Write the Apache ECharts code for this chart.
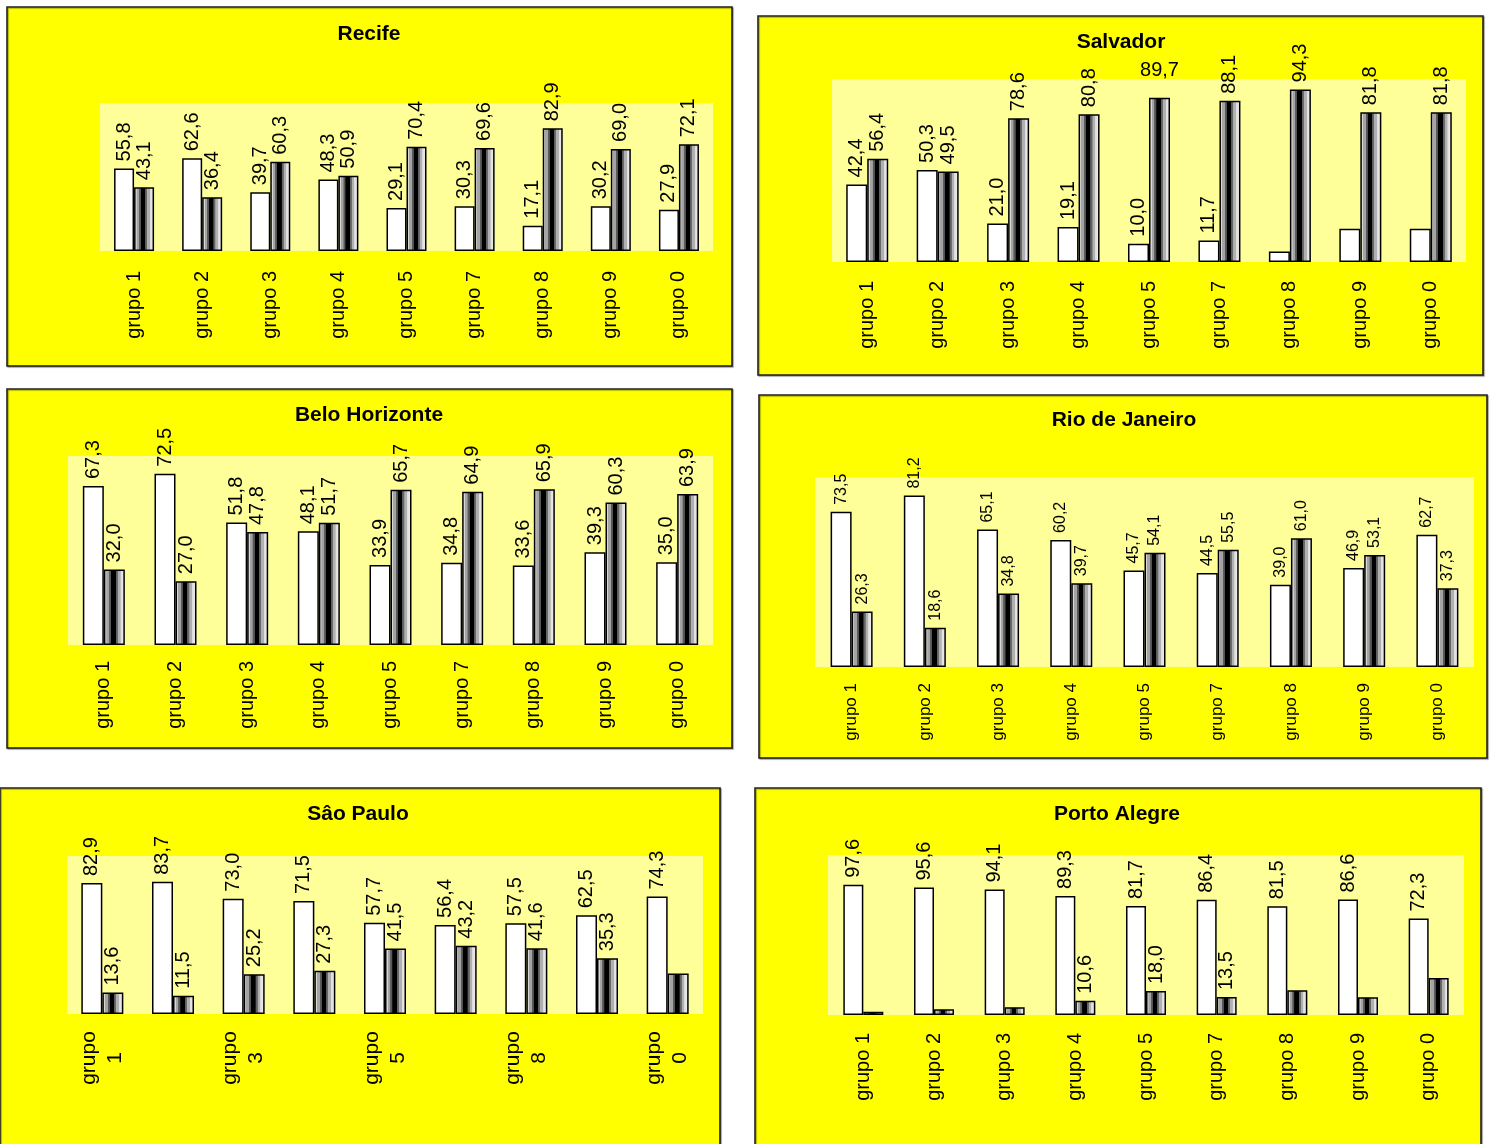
<!DOCTYPE html>
<html><head><meta charset="utf-8">
<script src="https://cdn.jsdelivr.net/npm/echarts@6/dist/echarts.min.js"></script>
<style>html,body{margin:0;padding:0;background:#fff}#c{width:1491px;height:1144px}</style>
</head><body><div id="c"></div>
<script>
// ---- DATA ----
const categories = ['grupo 1','grupo 2','grupo 3','grupo 4','grupo 5','grupo 7','grupo 8','grupo 9','grupo 0'];
const cityNames = ['Recife','Salvador','Belo Horizonte','Rio de Janeiro','Sâo Paulo','Porto Alegre'];

const recifeWhite   = [55.8, 62.6, 39.7, 48.3, 29.1, 30.3, 17.1, 30.2, 27.9];
const recifeStriped = [43.1, 36.4, 60.3, 50.9, 70.4, 69.6, 82.9, 69.0, 72.1];

const salvadorWhite   = [42.4, 50.3, 21.0, 19.1, 10.0, 11.7, 5.7, 18.2, 18.2];
const salvadorStriped = [56.4, 49.5, 78.6, 80.8, 89.7, 88.1, 94.3, 81.8, 81.8];

const beloWhite   = [67.3, 72.5, 51.8, 48.1, 33.9, 34.8, 33.6, 39.3, 35.0];
const beloStriped = [32.0, 27.0, 47.8, 51.7, 65.7, 64.9, 65.9, 60.3, 63.9];

const rioWhite   = [73.5, 81.2, 65.1, 60.2, 45.7, 44.5, 39.0, 46.9, 62.7];
const rioStriped = [26.3, 18.6, 34.8, 39.7, 54.1, 55.5, 61.0, 53.1, 37.3];

const spWhite   = [82.9, 83.7, 73.0, 71.5, 57.7, 56.4, 57.5, 62.5, 74.3];
const spStriped = [13.6, 11.5, 25.2, 27.3, 41.5, 43.2, 41.6, 35.3, 25.7];

const paWhite   = [97.6, 95.6, 94.1, 89.3, 81.7, 86.4, 81.5, 86.6, 72.3];
const paStriped = [2.4, 4.4, 5.9, 10.6, 18.0, 13.5, 18.5, 13.4, 27.7];

// indices whose value label is not shown in the original
const salvadorWhiteHidden = [6, 7, 8];
const spStripedHidden = [8];
const paStripedHidden = [0, 1, 2, 6, 7, 8];
// Salvador grupo 5 striped label is written horizontally
const salvadorStripedFlat = [4];

// ---- LAYOUT ----
const panels = [
  {white: recifeWhite, striped: recifeStriped, box:[7,7,725,359], tx:369, ty:34,
   grid:{left:100, top:103, width:613, height:148}, yMax:100, bw:20, fs:20, lfs:20, margin:20},
  {white: salvadorWhite, striped: salvadorStriped, box:[758,16,725,359], tx:1121, ty:42,
   grid:{left:832, top:79, width:634, height:183}, yMax:100, bw:21, fs:20, lfs:20, margin:19,
   whiteHidden: salvadorWhiteHidden, stripedFlat: salvadorStripedFlat},
  {white: beloWhite, striped: beloStriped, box:[7,389,725,359], tx:369, ty:415,
   grid:{left:68, top:456, width:645, height:189}, yMax:80, bw:21, fs:20, lfs:20, margin:16},
  {white: rioWhite, striped: rioStriped, box:[759,395,728,363], tx:1124, ty:420,
   grid:{left:815, top:477, width:659, height:190}, yMax:90, bw:21, fs:16, lfs:17, margin:16},
  {white: spWhite, striped: spStriped, box:[0,788,720,370], tx:358, ty:814,
   grid:{left:67, top:856, width:636, height:158}, yMax:100, bw:21, fs:20, lfs:21, margin:44,
   wrap:true, stripedHidden: spStripedHidden},
  {white: paWhite, striped: paStriped, box:[755,788,726,370], tx:1117, ty:814,
   grid:{left:828, top:855, width:636, height:160}, yMax:120, bw:20, fs:20, lfs:20, margin:18,
   stripedHidden: paStripedHidden}
];

const FONT = '"Liberation Sans", Arial, sans-serif';
const fmt = v => v.toFixed(1).replace('.', ',');

const stripeFill = new echarts.graphic.LinearGradient(0, 0, 1, 0, [
  {offset:0, color:'#d8d8d8'}, {offset:0.12, color:'#d8d8d8'},
  {offset:0.13, color:'#a4a4a4'}, {offset:0.25, color:'#a4a4a4'},
  {offset:0.26, color:'#606060'}, {offset:0.35, color:'#505050'},
  {offset:0.36, color:'#000'}, {offset:0.56, color:'#000'},
  {offset:0.57, color:'#5c5c5c'}, {offset:0.66, color:'#6c6c6c'},
  {offset:0.67, color:'#b0b0b0'}, {offset:0.79, color:'#b0b0b0'},
  {offset:0.8, color:'#dcdcdc'}, {offset:1, color:'#f4f4f4'}
]);

const grids = [], xAxes = [], yAxes = [], series = [], graphics = [];

panels.forEach((p, i) => {
  graphics.push({type:'rect', z:-10, shape:{x:p.box[0], y:p.box[1], width:p.box[2], height:p.box[3]},
    style:{fill:'#FFFF00', stroke:'#222', lineWidth:1.6, shadowColor:'rgba(0,0,0,0.35)', shadowOffsetX:1, shadowOffsetY:1, shadowBlur:1}});
  graphics.push({type:'text', z:10, style:{text:cityNames[i], x:p.tx, y:p.ty, textAlign:'center', textVerticalAlign:'middle',
    font:'bold 21px ' + FONT, fill:'#000'}});

  grids.push(Object.assign({show:true, backgroundColor:'#FFFF99', borderWidth:0, containLabel:false}, p.grid));

  xAxes.push({type:'category', gridIndex:i, data: p.wrap ? categories.map(c => c.replace(' ', '\n')) : categories,
    axisLine:{show:false}, axisTick:{show:false},
    axisLabel:{rotate:90, interval: p.wrap ? 1 : 0, margin:p.margin, fontSize:p.lfs, fontFamily:FONT, color:'#000',
      align: p.wrap ? 'center' : undefined, lineHeight: p.wrap ? 26 : undefined}});
  yAxes.push({type:'value', gridIndex:i, min:0, max:p.yMax, show:false, splitLine:{show:false}});

  const baseLabel = {show:true, position:'top', rotate:90, align:'left', verticalAlign:'middle', distance:7,
    fontSize:p.fs, fontFamily:FONT, color:'#000', formatter: q => fmt(q.value)};

  const mk = (arr, hidden, flat) => arr.map((v, k) => {
    if (hidden && hidden.includes(k)) return {value:v, label:{show:false}};
    if (flat && flat.includes(k)) return {value:v, label:{rotate:0, align:'center', verticalAlign:'bottom', distance:17}};
    return v;
  });

  series.push({type:'bar', xAxisIndex:i, yAxisIndex:i, barWidth:p.bw, barGap:'0%',
    data: mk(p.white, p.whiteHidden),
    itemStyle:{color:'#fff', borderColor:'#000', borderWidth:1.5}, label: baseLabel, silent:true, animation:false});
  series.push({type:'bar', xAxisIndex:i, yAxisIndex:i, barWidth:p.bw, barGap:'0%',
    data: mk(p.striped, p.stripedHidden, p.stripedFlat),
    itemStyle:{color:stripeFill, borderColor:'#000', borderWidth:1.5}, label: baseLabel, silent:true, animation:false});
});

const chart = echarts.init(document.getElementById('c'), null, {renderer:'canvas'});
chart.setOption({
  animation:false,
  backgroundColor:'#ffffff',
  grid: grids, xAxis: xAxes, yAxis: yAxes, series: series,
  graphic: {elements: graphics}
});
</script></body></html>
